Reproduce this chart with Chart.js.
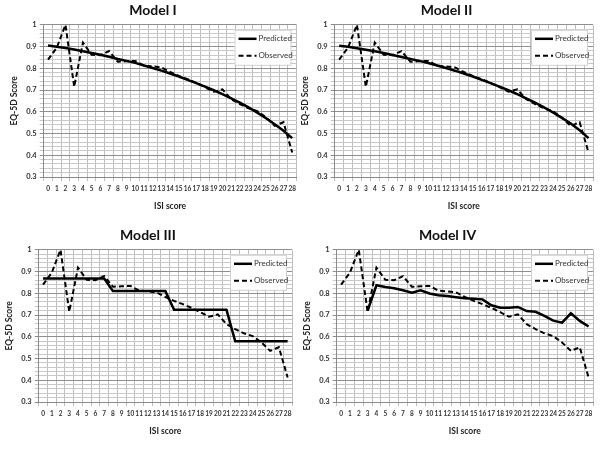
<!DOCTYPE html>
<html>
<head>
<meta charset="utf-8">
<script src="https://cdn.jsdelivr.net/npm/chart.js@4.4.1/dist/chart.umd.min.js"></script>
<style>
  body { margin: 0; background: #fff; }
  .panel { position: absolute; width: 300px; height: 225px; }
</style>
</head>
<body>
<div class="panel" style="left:0;top:0"><canvas id="c1" width="300" height="225"></canvas></div>
<div class="panel" style="left:300px;top:0"><canvas id="c2" width="300" height="225"></canvas></div>
<div class="panel" style="left:0;top:225px"><canvas id="c3" width="300" height="225"></canvas></div>
<div class="panel" style="left:300px;top:225px"><canvas id="c4" width="300" height="225"></canvas></div>
<script>
// ISI score categories 0..28
const isiScores = ['0','1','2','3','4','5','6','7','8','9','10','11','12','13','14',
  '15','16','17','18','19','20','21','22','23','24','25','26','27','28'];

// observed EQ-5D score (same in every panel)
const observed = [0.84, 0.895, 1.0, 0.715, 0.918, 0.862, 0.86, 0.879, 0.83, 0.832,
  0.834, 0.812, 0.809, 0.804, 0.783, 0.765, 0.75, 0.733, 0.713, 0.692,
  0.703, 0.658, 0.635, 0.616, 0.603, 0.574, 0.535, 0.552, 0.413];

// predicted, one array per model
const predModel1 = [0.905, 0.899, 0.893, 0.886, 0.878, 0.870, 0.862, 0.853, 0.843, 0.834,
  0.825, 0.813, 0.801, 0.789, 0.776, 0.762, 0.747, 0.732, 0.716, 0.699,
  0.681, 0.662, 0.642, 0.620, 0.596, 0.570, 0.543, 0.513, 0.479];
const predModel2 = [0.904, 0.899, 0.892, 0.885, 0.878, 0.870, 0.861, 0.852, 0.843, 0.834,
  0.824, 0.813, 0.801, 0.789, 0.776, 0.762, 0.747, 0.732, 0.716, 0.699,
  0.681, 0.662, 0.642, 0.620, 0.597, 0.572, 0.546, 0.515, 0.479];
const predModel3 = [0.868, 0.868, 0.868, 0.868, 0.868, 0.868, 0.868, 0.868, 0.81, 0.81,
  0.81, 0.81, 0.81, 0.81, 0.81, 0.724, 0.724, 0.724, 0.724, 0.724,
  0.724, 0.724, 0.579, 0.579, 0.579, 0.579, 0.579, 0.579, 0.579];
const predModel4 = [null, null, null, 0.72, 0.837, 0.829, 0.823, 0.814, 0.803, 0.814,
  0.799, 0.791, 0.787, 0.782, 0.777, 0.775, 0.772, 0.745, 0.734, 0.734,
  0.737, 0.718, 0.715, 0.696, 0.674, 0.665, 0.708, 0.673, 0.647];

const yMin = 0.3, yMax = 1.0, yMinorStep = 0.02;
const FONT = 'Lato, "Liberation Sans", sans-serif';

function isMajor(v) {
  return Math.abs(v * 10 - Math.round(v * 10)) < 1e-6;
}

// legend box drawn inside the plot, top right, like the Excel originals
const insideLegend = {
  id: 'insideLegend',
  afterDraw(chart) {
    const { ctx, chartArea } = chart;
    const w = 56, h = 35;
    const x = chartArea.right - w - 6;
    const y = chartArea.top + 5;
    ctx.save();
    ctx.fillStyle = '#fff';
    ctx.fillRect(x, y, w, h);
    ctx.strokeStyle = '#d0d0d0';
    ctx.lineWidth = 1;
    ctx.strokeRect(x + 0.5, y + 0.5, w, h);
    ctx.font = '8px ' + FONT;
    ctx.textBaseline = 'middle';
    chart.data.datasets.forEach((ds, i) => {
      const ly = y + 9 + i * 17;
      ctx.beginPath();
      ctx.strokeStyle = ds.borderColor;
      ctx.lineWidth = ds.borderWidth;
      ctx.setLineDash(ds.borderDash || []);
      ctx.moveTo(x + 4, ly);
      ctx.lineTo(x + 22, ly);
      ctx.stroke();
      ctx.setLineDash([]);
      ctx.fillStyle = '#333';
      ctx.fillText(ds.label, x + 24, ly);
    });
    ctx.restore();
  }
};

function makeChart(id, title, predicted, padLeft, padRight) {
  return new Chart(document.getElementById(id), {
    type: 'line',
    data: {
      labels: isiScores,
      datasets: [
        {
          label: 'Predicted',
          data: predicted,
          borderColor: '#000',
          borderWidth: 2.5,
          pointRadius: 0,
          tension: 0,
          spanGaps: false
        },
        {
          label: 'Observed',
          data: observed,
          borderColor: '#000',
          borderWidth: 2,
          borderDash: [5, 3],
          pointRadius: 0,
          tension: 0
        }
      ]
    },
    options: {
      responsive: false,
      animation: false,
      layout: { padding: { left: padLeft, right: padRight, top: 0, bottom: 14 } },
      plugins: {
        legend: { display: false },
        tooltip: { enabled: false },
        title: {
          display: true,
          text: title,
          color: '#111',
          font: { family: FONT, size: 14, weight: 'bold' },
          padding: { top: 2, bottom: 6 }
        }
      },
      scales: {
        x: {
          offset: true,
          grid: { offset: true, color: '#bdbdbd', tickLength: 4 },
          border: { color: '#8a8a8a' },
          ticks: {
            autoSkip: false,
            maxRotation: 0,
            padding: 4,
            color: '#333',
            font: { family: FONT, size: 6.5, weight: 'bold' }
          },
          title: {
            display: true,
            text: 'ISI score',
            color: '#222',
            font: { family: FONT, size: 8.5, weight: 'bold' },
            padding: { top: 4, bottom: 0 }
          }
        },
        y: {
          min: yMin,
          max: yMax,
          grid: {
            color: ctx => isMajor(ctx.tick.value) ? '#8f8f8f' : '#c8c8c8',
            tickLength: 4
          },
          border: { color: '#8a8a8a' },
          ticks: {
            stepSize: yMinorStep,
            maxTicksLimit: 60,
            autoSkip: false,
            padding: 3,
            color: '#333',
            font: { family: FONT, size: 7.5, weight: 'bold' },
            callback: v => isMajor(v) ? String(Math.round(v * 10) / 10) : ''
          },
          title: {
            display: true,
            text: 'EQ-5D Score',
            color: '#222',
            font: { family: FONT, size: 8.5, weight: 'bold' },
            padding: { top: 0, bottom: 4 }
          }
        }
      }
    },
    plugins: [insideLegend]
  });
}

makeChart('c1', 'Model I', predModel1, 9, 3);
makeChart('c2', 'Model II', predModel2, 0, 7);
makeChart('c3', 'Model III', predModel3, 4, 8);
makeChart('c4', 'Model IV', predModel4, 2, 7);
</script>
</body>
</html>
